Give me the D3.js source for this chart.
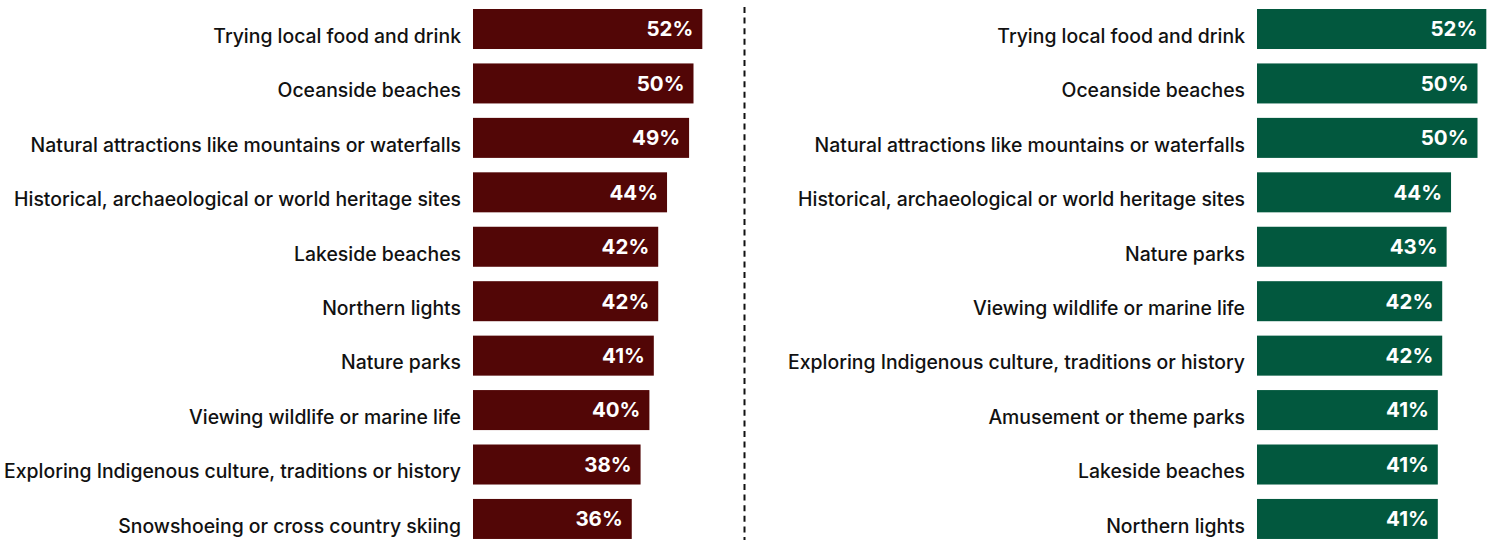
<!DOCTYPE html>
<html><head><meta charset="utf-8">
<script src="https://cdn.jsdelivr.net/npm/d3@7"></script>
<style>html,body{margin:0;padding:0;background:#fff;}svg{display:block;}</style>
</head><body>
<div id="chart"></div>
<script>
const leftCategories = ["Trying local food and drink","Oceanside beaches","Natural attractions like mountains or waterfalls","Historical, archaeological or world heritage sites","Lakeside beaches","Northern lights","Nature parks","Viewing wildlife or marine life","Exploring Indigenous culture, traditions or history","Snowshoeing or cross country skiing"];
const leftValues = [52,50,49,44,42,42,41,40,38,36];
const rightCategories = ["Trying local food and drink","Oceanside beaches","Natural attractions like mountains or waterfalls","Historical, archaeological or world heritage sites","Nature parks","Viewing wildlife or marine life","Exploring Indigenous culture, traditions or history","Amusement or theme parks","Lakeside beaches","Northern lights"];
const rightValues = [52,50,50,44,43,42,42,41,41,41];

const W = 1500, H = 540;
const svg = d3.select("#chart").append("svg").attr("width", W).attr("height", H);
const font = "Inter, 'Noto Sans', sans-serif";

function panel(cats, vals, x0, color) {
  const y = d3.scaleBand().domain(cats).range([9, 9 + 54.44*10 - (54.44-40)]).paddingInner(0.265).paddingOuter(0).align(0);
  const x = d3.scaleLinear().domain([0, 100]).range([x0, x0 + 441]);
  const g = svg.append("g");
  const data = cats.map((c, i) => ({c, v: vals[i]}));
  g.selectAll("rect").data(data).join("rect")
    .attr("x", x(0)).attr("y", d => y(d.c))
    .attr("width", d => x(d.v) - x(0)).attr("height", y.bandwidth())
    .attr("fill", color);
  g.selectAll("text.val").data(data).join("text").attr("class","val")
    .attr("x", d => x(d.v) - 9).attr("y", d => y(d.c) + y.bandwidth()/2)
    .attr("dy", "0.36em").attr("text-anchor", "end")
    .attr("fill", "#fff").attr("font-family", font).attr("font-weight", 700).attr("font-size", 20.5)
    .text(d => d.v + "%");
  g.selectAll("text.cat").data(data).join("text").attr("class","cat")
    .attr("x", x(0) - 12).attr("y", d => y(d.c) + y.bandwidth()/2 + 7)
    .attr("dy", "0.35em").attr("text-anchor", "end")
    .attr("fill", "#111").attr("font-family", font).attr("font-weight", 500).attr("font-size", 19.4)
    .text(d => d.c);
}
panel(leftCategories, leftValues, 473, "#520606");
panel(rightCategories, rightValues, 1257, "#02583e");

svg.append("line").attr("x1", 744.5).attr("x2", 744.5).attr("y1", 7).attr("y2", H)
  .attr("stroke", "#111").attr("stroke-width", 2).attr("stroke-dasharray", "6,4.6");
</script>
</body></html>
